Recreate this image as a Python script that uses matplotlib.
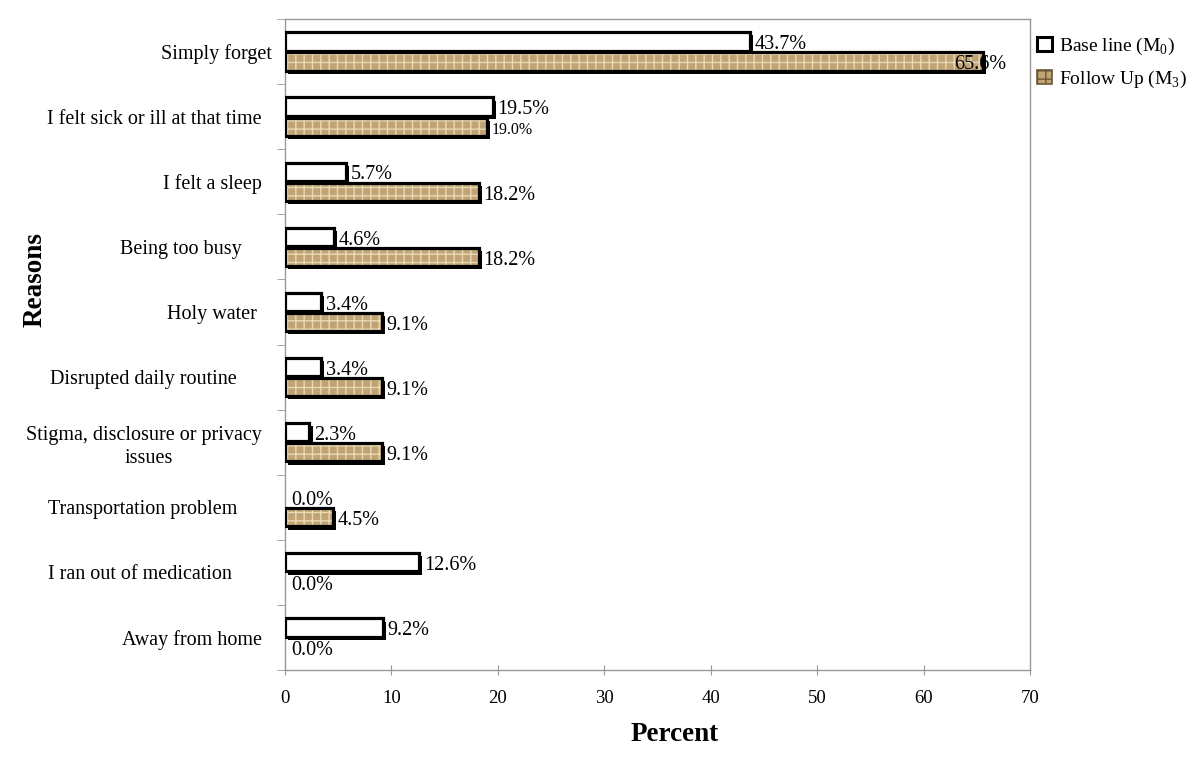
import numpy as np
import matplotlib
matplotlib.use("Agg")
import matplotlib.pyplot as plt
import matplotlib.transforms as mtransforms
from matplotlib.patches import Patch

plt.rcParams['font.family'] = ['Liberation Serif', 'DejaVu Serif']
plt.rcParams['mathtext.fontset'] = 'custom'
plt.rcParams['mathtext.rm'] = 'Liberation Serif'
plt.rcParams['hatch.linewidth'] = 1.0

# 데이터 (위에서 아래 순서)
reasons = ['Simply forget', 'I felt sick or ill at that time  ', 'I felt a sleep  ',
           'Being too busy      ', 'Holy water   ', 'Disrupted daily routine       ',
           'Stigma, disclosure or privacy  \nissues', 'Transportation problem       ',
           'I ran out of medication        ', 'Away from home  ']
baseline = [43.7, 19.5, 5.7, 4.6, 3.4, 3.4, 2.3, 0.0, 12.6, 9.2]
followup = [65.6, 19.0, 18.2, 18.2, 9.1, 9.1, 9.1, 4.5, 0.0, 0.0]
xticks = [0, 10, 20, 30, 40, 50, 60, 70]

tan = '#c0a475'
hatch_col = '#e8d9b5'
y = np.arange(len(reasons))
h = 0.28
off = 0.155

fig = plt.figure(figsize=(12, 7.58), dpi=100)
ax = fig.add_axes([0.2375, 0.116, 0.6208, 0.859])

# 그림자용 변환 (오른쪽 아래로 약간 이동)
shift = ax.transData + mtransforms.ScaledTranslation(2.3 / 72, -2.3 / 72, fig.dpi_scale_trans)

base_edges = ['black' if v > 0 else 'none' for v in baseline]
follow_edges = ['black' if v > 0 else 'none' for v in followup]

# 그림자
ax.barh(y - off, baseline, height=h, color='black', linewidth=0, zorder=1, transform=shift)
ax.barh(y + off, followup, height=h, color='black', linewidth=0, zorder=1, transform=shift)
# 베이스라인 막대
ax.barh(y - off, baseline, height=h, color='white', linewidth=0, zorder=2)
ax.barh(y - off, baseline, height=h, fill=False, edgecolor=base_edges, linewidth=2.3, zorder=3)
# 추적 막대 (무늬)
ax.barh(y + off, followup, height=h, facecolor=tan, edgecolor=hatch_col, hatch='++',
        linewidth=0, zorder=2)
ax.barh(y + off, followup, height=h, fill=False, edgecolor=follow_edges, linewidth=2.3, zorder=3)

for i, v in enumerate(baseline):
    x = v + 0.45 if v > 0 else 0.6
    ax.text(x, i - off + 0.05, f'{v:.1f}%', va='center', ha='left', fontsize=14.5, zorder=4)
for i, v in enumerate(followup):
    x = v - 2.7 if v > 60 else (v + 0.45 if v > 0 else 0.6)
    fs = 11.5 if i == 1 else 14.5
    ax.text(x, i + off + 0.05, f'{v:.1f}%', va='center', ha='left', fontsize=fs, zorder=4)

ax.set_xlim(0, 70)
ax.set_ylim(len(reasons) - 0.5, -0.5)
ax.set_xticks(xticks)
ax.tick_params(axis='x', direction='inout', length=7, color='#999999', labelsize=13.5, pad=11)
ax.set_yticks(y)
ax.set_yticklabels(reasons, fontsize=14.5, multialignment='center', linespacing=1.3)
ax.tick_params(axis='y', which='major', length=0, pad=9.4)
ax.set_yticks(np.arange(-0.5, len(reasons), 1.0), minor=True)
ax.tick_params(axis='y', which='minor', direction='out', length=6, color='#999999')
for s in ax.spines.values():
    s.set_color('#999999')
    s.set_linewidth(1.0)

ax.set_xlabel('Percent', fontsize=19.5, fontweight='bold')
ax.xaxis.set_label_coords(0.523, -0.08)
ax.set_ylabel('Reasons', fontsize=19.5, fontweight='bold')
ax.yaxis.set_label_coords(-0.319, 0.6)

handles = [Patch(facecolor='white', edgecolor='black', linewidth=2.2),
           Patch(facecolor=tan, edgecolor='#6b5635', hatch='++', linewidth=1.2)]
fig.legend(handles, [r'Base line (M$_\mathregular{0}$)', r'Follow Up (M$_\mathregular{3}$)'],
           loc='upper left', bbox_to_anchor=(0.858, 0.963), frameon=False, fontsize=14,
           handlelength=0.75, handleheight=0.75, handletextpad=0.35, labelspacing=0.6,
           borderaxespad=0)

fig.savefig('out.png', dpi=100)
